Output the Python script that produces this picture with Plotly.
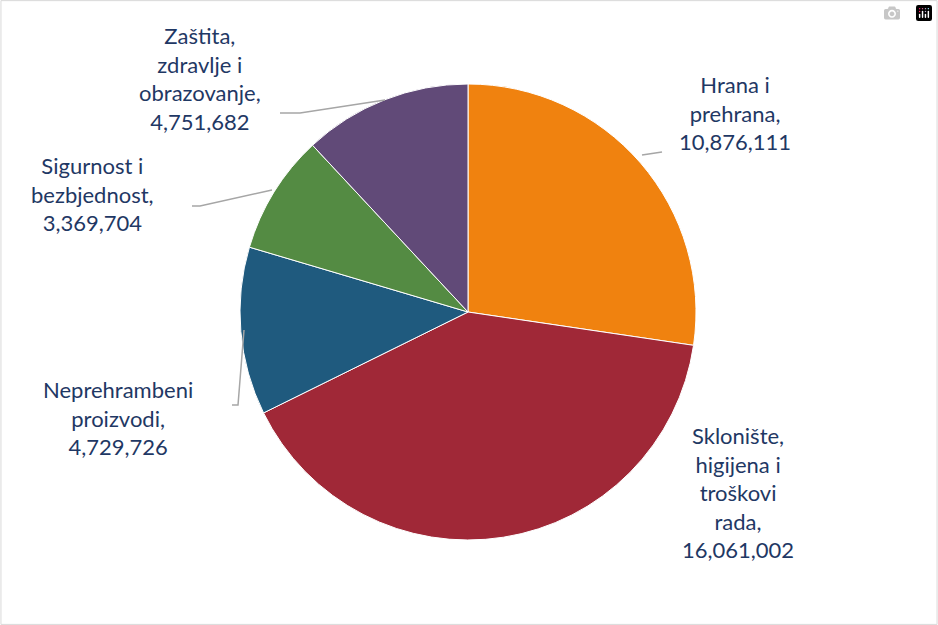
import plotly.graph_objects as go

labels = ["Hrana i prehrana", "Sklonište, higijena i troškovi rada",
          "Neprehrambeni proizvodi", "Sigurnost i bezbjednost",
          "Zaštita, zdravlje i obrazovanje"]
values = [10876111, 16061002, 4729726, 3369704, 4751682]
colors = ["#F0820F", "#A02837", "#1F5A7E", "#548B43", "#614A78"]
label_text = ["Hrana i<br>prehrana,<br>10,876,111",
              "Sklonište,<br>higijena i<br>troškovi<br>rada,<br>16,061,002",
              "Neprehrambeni<br>proizvodi,<br>4,729,726",
              "Sigurnost i<br>bezbjednost,<br>3,369,704",
              "Zaštita,<br>zdravlje i<br>obrazovanje,<br>4,751,682"]

W, H = 938, 625
def px(x, y):
    return x / W, 1 - y / H

fig = go.Figure(go.Pie(
    labels=labels, values=values, sort=False, direction="clockwise", rotation=0,
    marker=dict(colors=colors, line=dict(color="white", width=1)),
    textinfo="none", hoverinfo="label+value", showlegend=False,
    domain=dict(x=[240 / W, 696 / W], y=[1 - 540 / H, 1 - 84 / H]),
))

# label positions (pixel centres) and leader lines
pos = [(735, 113), (738, 492), (118, 418), (92, 194), (200, 78)]
leaders = [[(642, 155), (662, 152)], None,
           [(232, 405), (238, 405), (244, 330)],
           [(192, 206), (200, 206), (272, 190)],
           [(280, 113), (300, 113), (385, 100)]]
fnt = dict(family="Lato, Liberation Sans", size=22, color="#1F3864")
for t, (x, y) in zip(label_text, pos):
    xp, yp = px(x, y)
    fig.add_annotation(x=xp, y=yp, xref="paper", yref="paper", text=t,
                       xanchor="center", yanchor="middle",
                       showarrow=False, font=fnt, align="center")
shapes = []
for ld in leaders:
    if not ld:
        continue
    path = "M " + " L ".join(f"{px(a, b)[0]},{px(a, b)[1]}" for a, b in ld)
    shapes.append(dict(type="path", xref="paper", yref="paper", path=path,
                       line=dict(color="#A6A6A6", width=1.5)))
shapes.append(dict(type="rect", xref="paper", yref="paper", x0=0.001, y0=0.001,
                   x1=0.999, y1=0.999, line=dict(color="#D9D9D9", width=1)))

fig.update_layout(width=W, height=H, margin=dict(l=0, r=0, t=0, b=0),
                  paper_bgcolor="white", shapes=shapes)
fig.write_html("out.html", post_script="document.body.style.margin='0';")
